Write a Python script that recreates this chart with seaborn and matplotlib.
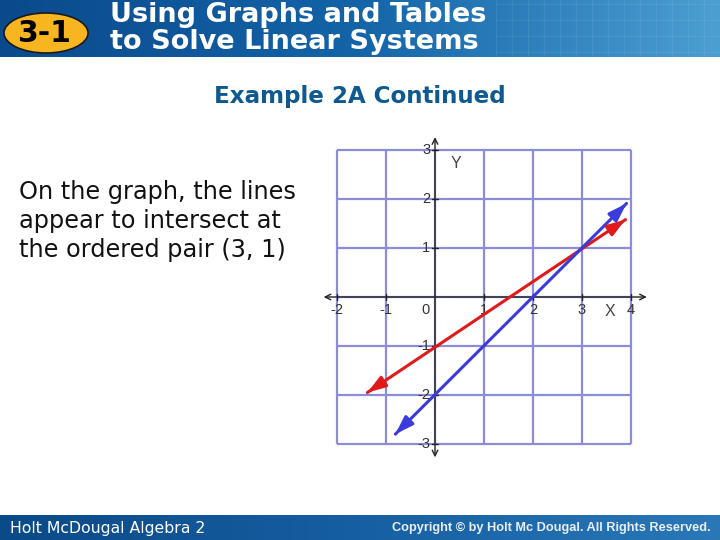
import numpy as np
import pandas as pd
import matplotlib
matplotlib.use('Agg')
import matplotlib.pyplot as plt
import seaborn as sns
from matplotlib.patches import Ellipse

# ---------- data ----------
red_x = [-1.38, 3.89]
red_y = [-1.95, 1.58]
blue_x = [-0.81, 3.91]
blue_y = [-2.80, 1.91]
x_ticks = [-2, -1, 1, 2, 3, 4]
y_ticks = [-3, -2, -1, 1, 2, 3]
grid_x = [-2, -1, 0, 1, 2, 3, 4]
grid_y = [-3, -2, -1, 0, 1, 2, 3]

sns.set_style('white')
plt.rcParams['font.family'] = ['DejaVu Sans']

fig = plt.figure(figsize=(7.2, 5.4), dpi=100)

# ---------- slide background (pixel coords) ----------
bg = fig.add_axes([0, 0, 1, 1])
bg.set_xlim(0, 720)
bg.set_ylim(540, 0)
bg.axis('off')

grad = np.linspace(0, 1, 256).reshape(1, -1)
head_cmap = matplotlib.colors.LinearSegmentedColormap.from_list('h', ['#0a4a8c', '#1464a8', '#4c9fd2'])
bg.imshow(grad, extent=(0, 720, 57, 0), cmap=head_cmap, aspect='auto', zorder=0)
# faint square pattern on the right of the header
for gx in np.arange(496, 720, 16):
    bg.plot([gx, gx], [0, 57], color='white', alpha=0.07, lw=0.8, zorder=1)
for gy in [4, 20, 36, 52]:
    bg.plot([496, 720], [gy, gy], color='white', alpha=0.07, lw=0.8, zorder=1)

foot_cmap = matplotlib.colors.LinearSegmentedColormap.from_list('f', ['#0b4a88', '#165fa2', '#2a78b8'])
bg.imshow(grad, extent=(0, 720, 540, 515), cmap=foot_cmap, aspect='auto', zorder=0)

bg.add_patch(Ellipse((46, 33), 84, 40, facecolor='#f7b520', edgecolor='#1a1a1a', lw=1.2, zorder=2))
bg.text(44, 34, '3-1', fontsize=21.5, fontweight='bold', color='black', ha='center', va='center', zorder=3)
bg.text(110, 15, 'Using Graphs and Tables', fontsize=19.5, fontweight='bold', color='white',
        ha='left', va='center', zorder=3)
bg.text(110, 42, 'to Solve Linear Systems', fontsize=19.5, fontweight='bold', color='white',
        ha='left', va='center', zorder=3)

bg.text(360, 97, 'Example 2A Continued', fontsize=16.6, fontweight='bold', color='#0e5a90',
        ha='center', va='center')

for i, line in enumerate(['On the graph, the lines', 'appear to intersect at', 'the ordered pair (3, 1)']):
    bg.text(19, 192 + 29 * i, line, fontsize=17.3, color='#111111', ha='left', va='center')

bg.text(10, 528, 'Holt McDougal Algebra 2', fontsize=11.3, color='white', ha='left', va='center')
bg.text(711, 528, 'Copyright \u00a9 by Holt Mc Dougal. All Rights Reserved.', fontsize=9.2,
        fontweight='bold', color='#e8eef6', ha='right', va='center', family='Liberation Sans')

# ---------- the graph ----------
ax = fig.add_axes([315 / 720, (540 - 466) / 540, 338 / 720, 338 / 540])
ax.set_xlim(-2.45, 4.45)
ax.set_ylim(-3.45, 3.45)
ax.axis('off')

grid_col = '#8c8cd8'
ax.vlines(grid_x, grid_y[0], grid_y[-1], colors=grid_col, lw=1.6, zorder=1)
ax.hlines(grid_y, grid_x[0], grid_x[-1], colors=grid_col, lw=1.6, zorder=1)

# axes with open arrowheads
ax.annotate('', xy=(4.38, 0), xytext=(-2.33, 0),
            arrowprops=dict(arrowstyle='<->', color='#222222', lw=1.0, mutation_scale=10), zorder=2)
ax.annotate('', xy=(0, 3.32), xytext=(0, -3.33),
            arrowprops=dict(arrowstyle='<->', color='#222222', lw=1.0, mutation_scale=10), zorder=2)
for t in x_ticks:
    ax.plot([t, t], [-0.07, 0.07], color='#222222', lw=1.0, zorder=2)
for t in y_ticks:
    ax.plot([-0.07, 0.07], [t, t], color='#222222', lw=1.0, zorder=2)

tick_font = dict(fontsize=10.5, color='#333333', family='Liberation Sans')
for t in x_ticks:
    ax.text(t, -0.27, str(t), ha='center', va='center', **tick_font)
ax.text(-0.2, -0.27, '0', ha='center', va='center', **tick_font)
for t in y_ticks:
    ax.text(-0.1, t, str(t), ha='right', va='center', **tick_font)
ax.text(3.58, -0.29, 'X', ha='center', va='center', fontsize=11.5, color='#444444', family='Liberation Sans')
ax.text(0.42, 2.72, 'Y', ha='center', va='center', fontsize=11.5, color='#444444', family='Liberation Sans')

lines = pd.DataFrame({
    'x': red_x + blue_x,
    'y': red_y + blue_y,
    'line': ['red'] * len(red_x) + ['blue'] * len(blue_x),
})
palette = {'red': '#e01a1a', 'blue': '#3b3bdc'}
sns.lineplot(data=lines, x='x', y='y', hue='line', palette=palette, lw=2.2,
             legend=False, sort=False, ax=ax, zorder=3)

# arrowheads at both ends of each line
for name, xs, ys in [('red', red_x, red_y), ('blue', blue_x, blue_y)]:
    d = np.array([xs[1] - xs[0], ys[1] - ys[0]])
    d = d / np.hypot(*d) * 0.3
    style = '-|>,head_length=0.9,head_width=0.3'
    ax.annotate('', xy=(xs[1], ys[1]), xytext=(xs[1] - d[0], ys[1] - d[1]),
                arrowprops=dict(arrowstyle=style, color=palette[name], lw=2.2,
                                mutation_scale=12, shrinkA=0, shrinkB=0), zorder=4)
    ax.annotate('', xy=(xs[0], ys[0]), xytext=(xs[0] + d[0], ys[0] + d[1]),
                arrowprops=dict(arrowstyle=style, color=palette[name], lw=2.2,
                                mutation_scale=12, shrinkA=0, shrinkB=0), zorder=4)

fig.savefig('out.png', dpi=100)
